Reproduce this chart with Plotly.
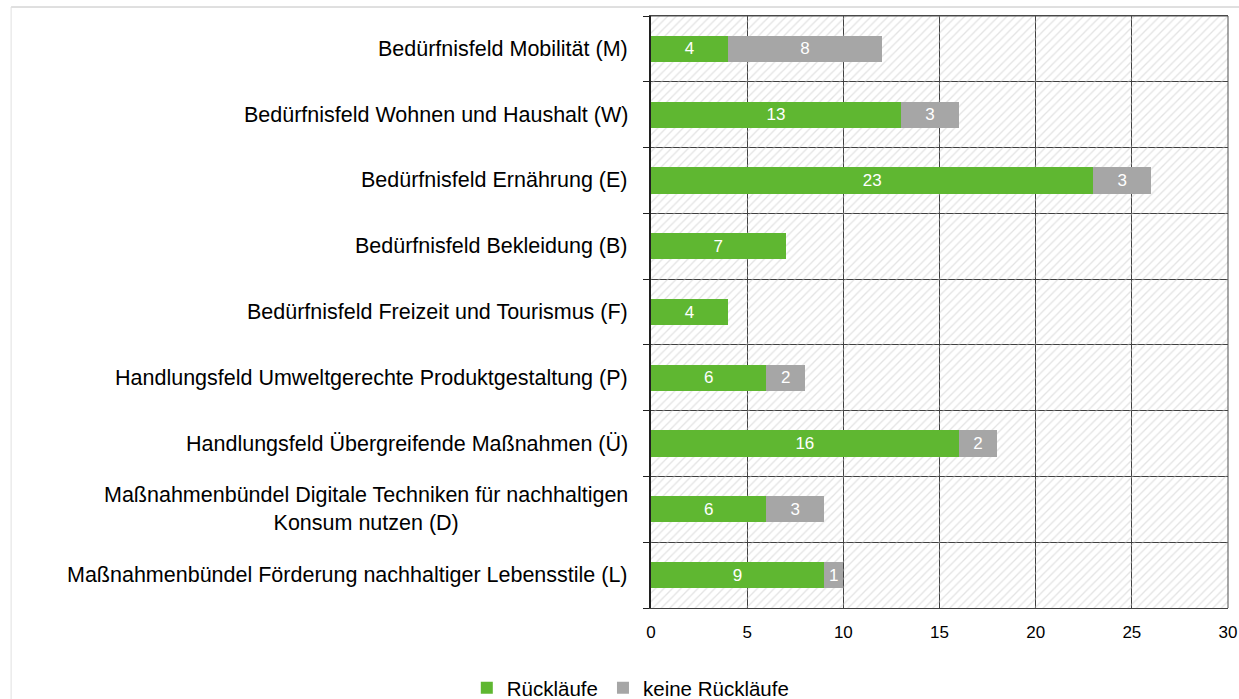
import plotly.graph_objects as go

categories = [
    "Bedürfnisfeld Mobilität (M)",
    "Bedürfnisfeld Wohnen und Haushalt (W)",
    "Bedürfnisfeld Ernährung (E)",
    "Bedürfnisfeld Bekleidung (B)",
    "Bedürfnisfeld Freizeit und Tourismus (F)",
    "Handlungsfeld Umweltgerechte Produktgestaltung (P)",
    "Handlungsfeld Übergreifende Maßnahmen (Ü)",
    "Maßnahmenbündel Digitale Techniken für nachhaltigen<br>Konsum nutzen (D)",
    "Maßnahmenbündel Förderung nachhaltiger Lebensstile (L)",
]
rueck = [4, 13, 23, 7, 4, 6, 16, 6, 9]
keine = [8, 3, 3, 0, 0, 2, 2, 3, 1]
x_ticks = [0, 5, 10, 15, 20, 25, 30]

GREEN = "#5fb731"
GRAY = "#a6a6a6"
FONT = "Liberation Sans"

pos = list(range(len(categories)))
n = len(categories)
yrange = [n - 0.5, -0.5]

fig = go.Figure()

# hatched background of plot area (base axes, drawn beneath the overlay with bars)
fig.add_trace(go.Scatter(
    x=[x_ticks[0], x_ticks[-1], x_ticks[-1], x_ticks[0], x_ticks[0]],
    y=[-0.5, -0.5, n - 0.5, n - 0.5, -0.5],
    mode="lines", line=dict(width=0), fill="toself",
    fillcolor="rgba(0,0,0,0)",
    fillpattern=dict(shape="/", fgcolor="#c8c8c8", bgcolor="rgba(0,0,0,0)",
                     size=6, solidity=0.22),
    hoverinfo="skip", showlegend=False, yaxis="y",
))

fig.add_trace(go.Bar(
    y=pos, x=rueck, orientation="h", name="Rückläufe", yaxis="y2",
    marker=dict(color=GREEN, line=dict(width=0)), width=0.4,
    text=[str(v) for v in rueck], textposition="inside", insidetextanchor="middle",
    textfont=dict(color="white", size=17, family=FONT),
))
fig.add_trace(go.Bar(
    y=pos, x=keine, orientation="h", name="keine Rückläufe", yaxis="y2",
    marker=dict(color=GRAY, line=dict(width=0)), width=0.4,
    text=[str(v) if v else "" for v in keine], textposition="inside",
    insidetextanchor="middle",
    textfont=dict(color="white", size=17, family=FONT),
))

for p, c in zip(pos, categories):
    fig.add_annotation(x=0, y=p, xref="x", yref="y", text=c, showarrow=False,
                       xanchor="right", yanchor="middle", align="center",
                       xshift=-21, font=dict(size=21.5, color="#000000", family=FONT))

fig.update_layout(
    barmode="stack",
    width=1239, height=699,
    margin=dict(l=651, r=11, t=16, b=91, autoexpand=False),
    paper_bgcolor="white", plot_bgcolor="white",
    font=dict(family=FONT, color="#000000"),
    uniformtext=dict(minsize=8, mode="show"),
    legend=dict(orientation="h", x=-0.035, xanchor="center", y=-0.135, yanchor="middle",
                font=dict(size=20.5, family=FONT), traceorder="normal"),
    xaxis=dict(range=[x_ticks[0], x_ticks[-1]], tickvals=x_ticks, showgrid=True,
               gridcolor="#404040", gridwidth=1, zeroline=False,
               showline=True, linecolor="#404040", linewidth=1, mirror=True,
               ticks="", tickfont=dict(size=17, family=FONT), ticklabelstandoff=9),
    yaxis=dict(range=yrange, tickvals=[i - 0.5 for i in range(n + 1)],
               ticktext=["" for _ in range(n + 1)], showgrid=True,
               gridcolor="#404040", gridwidth=1, zeroline=False,
               showline=True, linecolor="#202020", linewidth=2, mirror=False,
               ticks="outside", ticklen=6, tickcolor="#202020"),
    yaxis2=dict(range=yrange, overlaying="y", visible=False, showgrid=False),
    showlegend=True,
)
# right/top frame
fig.add_shape(type="line", xref="paper", yref="paper", x0=1, x1=1, y0=0, y1=1,
              line=dict(color="#505050", width=1))
fig.add_shape(type="line", xref="paper", yref="paper", x0=0, x1=1, y0=1, y1=1,
              line=dict(color="#505050", width=1))
# page edges
fig.add_shape(type="line", xref="paper", yref="paper", x0=-1.109, x1=1.02, y0=1.0152, y1=1.0152,
              line=dict(color="#c0c0c0", width=1))
fig.add_shape(type="line", xref="paper", yref="paper", x0=-1.109, x1=-1.109, y0=1.0152, y1=-0.2,
              line=dict(color="#e0e0e0", width=1))

fig.write_html("out.html", config={"displayModeBar": False},
               post_script="document.body.style.margin='0';")
